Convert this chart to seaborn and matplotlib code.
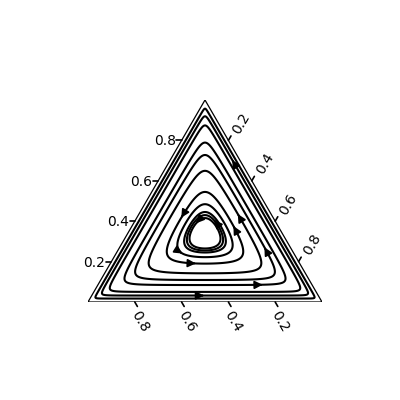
import numpy as np
import pandas as pd
import seaborn as sns
import matplotlib
matplotlib.use("Agg")
import matplotlib.pyplot as plt
from matplotlib.patches import FancyArrowPatch

# Closed cyclic orbits, each given by the top-corner share where it crosses
# the middle line at its bottom
orbit_bottom = [0.017, 0.032, 0.05, 0.084, 0.109, 0.142, 0.19, 0.222, 0.245, 0.255, 0.265]

# Arrow spots as (top share, right share)
arrow_top = [0.030, 0.084, 0.193, 0.228, 0.703, 0.431, 0.371, 0.267, 0.431, 0.406, 0.391]
arrow_right = [0.477, 0.702, 0.361, 0.271, 0.268, 0.426, 0.434, 0.623, 0.174, 0.340, 0.270]

tick_values = [0.2, 0.4, 0.6, 0.8]
tick_labels = ["0.2", "0.4", "0.6", "0.8"]

S = np.sqrt(3) / 2
Q = -3  # shape exponent of the orbit function
CX, CY = 0.5, S / 3  # centre of the simplex


def to_xy(top, right):
    return right + top / 2, top * S


def bary(x, y):
    top = y / S
    right = x - top / 2
    left = 1 - right - top
    return left, right, top


def orbit_fn(x, y):
    l, r, t = bary(x, y)
    return -(l ** Q + r ** Q + t ** Q)


def grad(x, y, e=1e-6):
    return ((orbit_fn(x + e, y) - orbit_fn(x - e, y)) / (2 * e),
            (orbit_fn(x, y + e) - orbit_fn(x, y - e)) / (2 * e))


def on_ray(x0, y0, level):
    # point on the ray from the centre through (x0, y0) lying on the given orbit
    dx, dy = x0 - CX, y0 - CY
    lo, hi = 0.0, 1.0
    while min(bary(CX + hi * dx, CY + hi * dy)) > 1e-6:
        hi *= 1.5
    for _ in range(60):
        mid = (lo + hi) / 2
        xm, ym = CX + mid * dx, CY + mid * dy
        if min(bary(xm, ym)) > 0 and orbit_fn(xm, ym) > level:
            lo = mid
        else:
            hi = mid
    return CX + lo * dx, CY + lo * dy


sns.set_style("white")
plt.rcParams["text.color"] = "black"
fig = plt.figure(figsize=(4, 4), dpi=100)
ax = fig.add_axes([0.22, 0.245, 0.585, 0.505])
ax.set_xlim(0, 1)
ax.set_ylim(0, S)
ax.axis("off")

# triangle outline
corners = pd.DataFrame({"x": [0, 1, 0.5, 0], "y": [0, 0, S, 0]})
sns.lineplot(data=corners, x="x", y="y", sort=False, estimator=None,
             color="black", lw=0.9, ax=ax)

# orbits
gx, gy = np.meshgrid(np.linspace(0, 1, 800), np.linspace(0, S, 800))
L, R, T = bary(gx, gy)
inside = (L > 1e-4) & (R > 1e-4) & (T > 1e-4)
F = np.full(gx.shape, -1e30)
F[inside] = orbit_fn(gx[inside], gy[inside])
levels = sorted(-(2 * ((1 - t) / 2) ** Q + t ** Q) for t in orbit_bottom)
ax.contour(gx, gy, F, levels=levels, colors="black", linewidths=1.5)

# arrows, moved onto the closest orbit, pointing counter-clockwise
for t0, r0 in zip(arrow_top, arrow_right):
    x0, y0 = to_xy(t0, r0)
    spots = [on_ray(x0, y0, lev) for lev in levels]
    x, y = min(spots, key=lambda p: np.hypot(p[0] - x0, p[1] - y0))
    gxh, gyh = grad(x, y)
    u, v = gyh, -gxh
    n = np.hypot(u, v)
    u, v = u / n * 0.004, v / n * 0.004
    ax.add_patch(FancyArrowPatch((x - u, y - v), (x + u, y + v),
                                 arrowstyle="-|>", mutation_scale=12,
                                 color="black", lw=1.2))

# ticks and labels
tl = 0.022
for val, lab in zip(tick_values, tick_labels):
    # left axis (top share)
    x, y = val / 2, val * S
    ax.plot([x, x - tl], [y, y], color="black", lw=1.2, clip_on=False)
    ax.text(x - 0.072, y - 0.004, lab, ha="center", va="center", fontsize=10)
    # right axis (right share, counted from the top corner)
    x, y = 0.5 + val / 2, S * (1 - val)
    ax.plot([x, x + tl * 0.5], [y, y + tl * S], color="black", lw=1.2, clip_on=False)
    ax.text(x + 0.056, y + 0.073, lab, ha="center", va="center", fontsize=10, rotation=60)
    # bottom axis (left share)
    x, y = 1 - val, 0
    ax.plot([x, x + tl * 0.5], [y, y - tl * S], color="black", lw=1.2, clip_on=False)
    ax.text(x + 0.022, y - 0.082, lab, ha="center", va="center", fontsize=10, rotation=-60)

fig.savefig("out.png", dpi=100)
